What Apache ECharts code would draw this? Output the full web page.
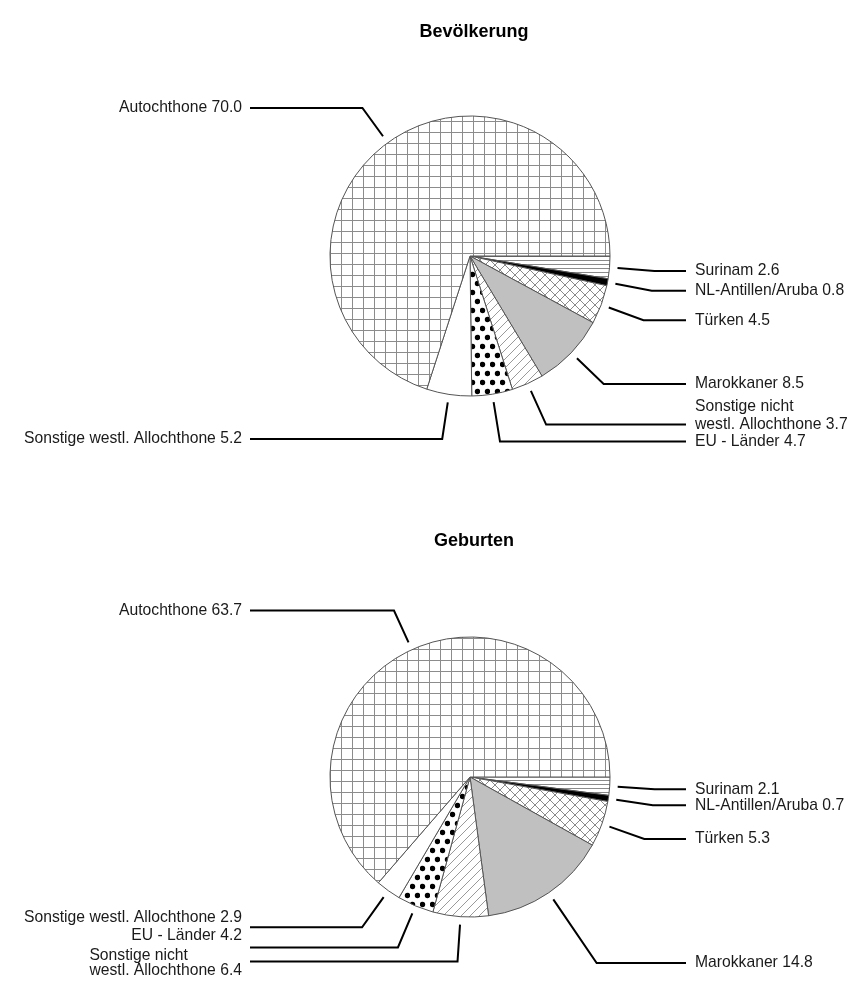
<!DOCTYPE html>
<html>
<head>
<meta charset="utf-8">
<script src="https://cdn.jsdelivr.net/npm/echarts@6/dist/echarts.min.js"></script>
<style>
  html, body { margin: 0; padding: 0; background: #fff; }
  #main { width: 868px; height: 981px; }
</style>
</head>
<body>
<div id="main"></div>
<script>
// Kategorien (im Uhrzeigersinn ab 3 Uhr)
var categories = ['Surinam', 'NL-Antillen/Aruba', 'Türken', 'Marokkaner',
    'Sonstige nicht\nwestl. Allochthone', 'EU - Länder', 'Sonstige westl. Allochthone', 'Autochthone'];
// Anteile in %
var bevoelkerung = [2.6, 0.8, 4.5, 8.5, 3.7, 4.7, 5.2, 70.0];
var geburten = [2.1, 0.7, 5.3, 14.8, 6.4, 4.2, 2.9, 63.7];

var R = 140;
var FONT = '"Liberation Sans", Arial, sans-serif';

// Schraffuren wie im Original (Schwarz-Weiss-Druck)
function makePattern(w, h, draw){
    var c = document.createElement('canvas');
    c.width = w; c.height = h;
    var ctx = c.getContext('2d');
    ctx.fillStyle = '#fff';
    ctx.fillRect(0, 0, w, h);
    draw(ctx, w, h);
    return {image: c, repeat: 'repeat'};
}
var patHoriz = makePattern(4, 4, function(ctx, w){
    ctx.fillStyle = '#8a8a8a'; ctx.fillRect(0, 0, w, 1);
});
var patCross = makePattern(10, 10, function(ctx){
    ctx.strokeStyle = '#8a8a8a'; ctx.lineWidth = 1;
    ctx.beginPath();
    ctx.moveTo(0, 0); ctx.lineTo(10, 10);
    ctx.moveTo(10, 0); ctx.lineTo(0, 10);
    ctx.stroke();
});
var patDiag = makePattern(9, 9, function(ctx){
    ctx.strokeStyle = '#9a9a9a'; ctx.lineWidth = 1;
    ctx.beginPath();
    ctx.moveTo(-1, 10); ctx.lineTo(10, -1);
    ctx.stroke();
});
var patDots = makePattern(10, 18, function(ctx){
    ctx.fillStyle = '#000';
    ctx.beginPath(); ctx.arc(2.5, 4.5, 2.7, 0, Math.PI * 2); ctx.fill();
    ctx.beginPath(); ctx.arc(7.5, 13.5, 2.7, 0, Math.PI * 2); ctx.fill();
});
var patGrid = makePattern(11, 11, function(ctx, w, h){
    ctx.fillStyle = '#8c8c8c';
    ctx.fillRect(0, 0, w, 1);
    ctx.fillRect(0, 0, 1, h);
});
var fills = [patHoriz, '#000000', patCross, '#c0c0c0', patDiag, patDots, '#ffffff', patGrid];

// Lage der Diagramme und Sonderfaelle der Beschriftung
// extend: Laenge des schraegen Stuecks der Fuehrungslinie, shift: Versatz des Texts
var pies = [
    {title: 'Bevölkerung', values: bevoelkerung, center: [470, 256], titleTop: 18,
        extend: {5: 40, 7: 35}, shift: {4: -9}, lineHeight: {}},
    {title: 'Geburten', values: geburten, center: [470, 777], titleTop: 527,
        extend: {3: 77, 7: 35}, shift: {4: 2, 5: -12, 6: -10}, lineHeight: {4: 15}}
];

function makeLayout(p){
    return function(params){
        var i = params.dataIndex;
        var cx = p.center[0], cy = p.center[1];
        var dx, dy;
        if (params.labelLinePoints && params.labelLinePoints[0]) {
            dx = params.labelLinePoints[0][0] - cx;
            dy = params.labelLinePoints[0][1] - cy;
        } else {
            var before = 0, total = 0;
            p.values.forEach(function(v, k){ total += v; if (k < i) before += v; });
            var a = (before + p.values[i] / 2) / total * Math.PI * 2;
            dx = Math.cos(a); dy = Math.sin(a);
        }
        var len = Math.sqrt(dx * dx + dy * dy);
        dx /= len; dy /= len;
        var ext = p.extend[i] || 37;
        var s = [cx + (R + 8) * dx, cy + (R + 8) * dy];
        var e = [cx + (R + 8 + ext) * dx, cy + (R + 8 + ext) * dy];
        var right = e[0] > cx;
        var endX = right ? 686 : 250;
        var x = right ? 695 : 242 - params.labelRect.width;
        return {
            x: x,
            y: e[1] + (p.shift[i] || 0),
            align: 'left',
            verticalAlign: 'middle',
            labelLinePoints: [s, e, [endX, e[1]]]
        };
    };
}

var myChart = echarts.init(document.getElementById('main'), null, {renderer: 'canvas'});

var option = {
    backgroundColor: '#ffffff',
    animation: false,
    title: pies.map(function(p){
        return {
            text: p.title,
            left: 469,
            top: p.titleTop,
            textAlign: 'center',
            textStyle: {fontFamily: FONT, fontSize: 18, fontWeight: 'bold', color: '#000'}
        };
    }),
    series: pies.map(function(p){
        return {
            type: 'pie',
            center: p.center,
            radius: R,
            startAngle: 0,
            clockwise: true,
            avoidLabelOverlap: false,
            silent: true,
            data: categories.map(function(name, k){
                var item = {name: name, value: p.values[k], itemStyle: {color: fills[k]}};
                if (p.lineHeight[k]) item.label = {lineHeight: p.lineHeight[k]};
                return item;
            }),
            itemStyle: {borderColor: '#555', borderWidth: 1},
            label: {
                show: true,
                position: 'outside',
                fontFamily: FONT,
                fontSize: 15.7,
                lineHeight: 18,
                color: '#1a1a1a',
                formatter: function(d){ return d.name + ' ' + d.value.toFixed(1); }
            },
            labelLine: {
                show: true,
                length: 20,
                length2: 20,
                lineStyle: {color: '#000', width: 2}
            },
            labelLayout: makeLayout(p),
            emphasis: {disabled: true}
        };
    })
};

myChart.setOption(option);
</script>
</body>
</html>
